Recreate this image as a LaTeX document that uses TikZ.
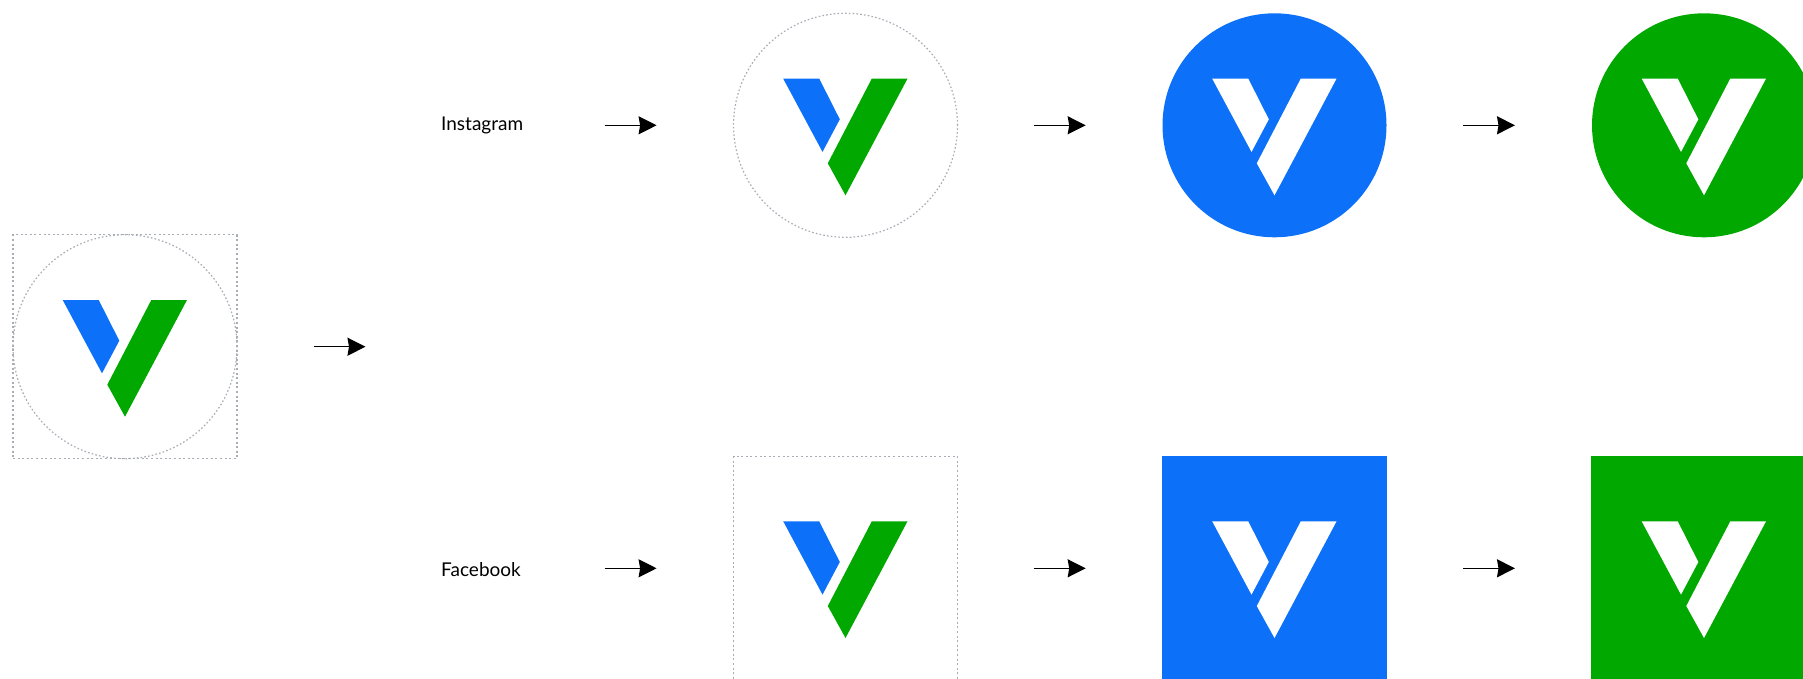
\documentclass[tikz,border=0pt]{standalone}
\usepackage{fontspec}
\setmainfont{Lato}
\usetikzlibrary{arrows.meta}
\definecolor{brandBlue}{RGB}{12,112,248}
\definecolor{brandGreen}{RGB}{0,168,0}
\definecolor{guideGray}{RGB}{168,172,180}
\tikzset{
  flowArrow/.style={line width=1.4pt, black, -{Stealth[length=18pt, width=18pt, inset=1.5pt]}},
  guideRing/.style={circle, draw=guideGray, line width=1.2pt, dash pattern=on 1.6pt off 2.2pt, minimum size=224pt, inner sep=0pt, outer sep=0pt},
  guideBox/.style={rectangle, draw=guideGray, line width=1.2pt, dash pattern=on 2pt off 2.6pt, minimum size=224pt, inner sep=0pt, outer sep=0pt},
  solidRing/.style={circle, minimum size=224pt, inner sep=0pt, outer sep=0pt},
  solidBox/.style={rectangle, minimum size=225pt, inner sep=0pt, outer sep=0pt},
  platformLabel/.style={anchor=base west, font=\fontsize{19pt}{22pt}\selectfont, inner sep=0pt},
}
% mark at centre #1, colours #2 and #3
\newcommand{\brandMark}[3]{
  \begin{scope}[shift={#1}]
    \fill[#2] (-62.3,-46.7) -- (-26.3,-46.7) -- (-5.7,-6) -- (-23,26.6) -- cycle;
    \fill[#3] (26.3,-46.7) -- (62,-46.7) -- (0,70) -- (-17.7,38) -- cycle;
  \end{scope}
}
\begin{document}
\begin{tikzpicture}[x=1pt, y=-1pt]
    \useasboundingbox (0,0) rectangle (1803,678);
    \clip (0,0) rectangle (1803,678);
    % source
    \node[guideBox] (srcBox) at (125,346.7) {};
    \node[guideRing] (srcRing) at (125,346.7) {};
    \brandMark{(125,346.7)}{brandBlue}{brandGreen}
    \coordinate (srcOutA) at (313.7,346.7);
    \coordinate (srcOutB) at (365.5,346.7);
    \draw[flowArrow] (srcOutA) -- (srcOutB);
    % instagram row
    \node[platformLabel] (igLabel) at (441,130.5) {Instagram};
    \node[guideRing] (igRing) at (845.5,125.3) {};
    \brandMark{(845.5,125.3)}{brandBlue}{brandGreen}
    \node[solidRing, fill=brandBlue] (igBlue) at (1274.5,125.3) {};
    \brandMark{(1274.5,125.3)}{white}{white}
    \node[solidRing, fill=brandGreen] (igGreen) at (1704,125.3) {};
    \brandMark{(1704,125.3)}{white}{white}
    \coordinate (igA1) at (604.6,125.3);
    \coordinate (igB1) at (656.6,125.3);
    \coordinate (igA2) at (1033.7,125.3);
    \coordinate (igB2) at (1085.7,125.3);
    \coordinate (igA3) at (1463,125.3);
    \coordinate (igB3) at (1515,125.3);
    \draw[flowArrow] (igA1) -- (igB1);
    \draw[flowArrow] (igA2) -- (igB2);
    \draw[flowArrow] (igA3) -- (igB3);
    % facebook row
    \node[platformLabel] (fbLabel) at (441,576) {Facebook};
    \node[guideBox] (fbBox) at (845.5,568.4) {};
    \brandMark{(845.5,568)}{brandBlue}{brandGreen}
    \node[solidBox, fill=brandBlue] (fbBlue) at (1274.5,568.5) {};
    \brandMark{(1274.5,568)}{white}{white}
    \node[solidBox, fill=brandGreen] (fbGreen) at (1703.5,568.5) {};
    \brandMark{(1704,568)}{white}{white}
    \coordinate (fbA1) at (604.6,568.3);
    \coordinate (fbB1) at (656.6,568.3);
    \coordinate (fbA2) at (1033.7,568.3);
    \coordinate (fbB2) at (1085.7,568.3);
    \coordinate (fbA3) at (1463,568.3);
    \coordinate (fbB3) at (1515,568.3);
    \draw[flowArrow] (fbA1) -- (fbB1);
    \draw[flowArrow] (fbA2) -- (fbB2);
    \draw[flowArrow] (fbA3) -- (fbB3);
\end{tikzpicture}
\end{document}
